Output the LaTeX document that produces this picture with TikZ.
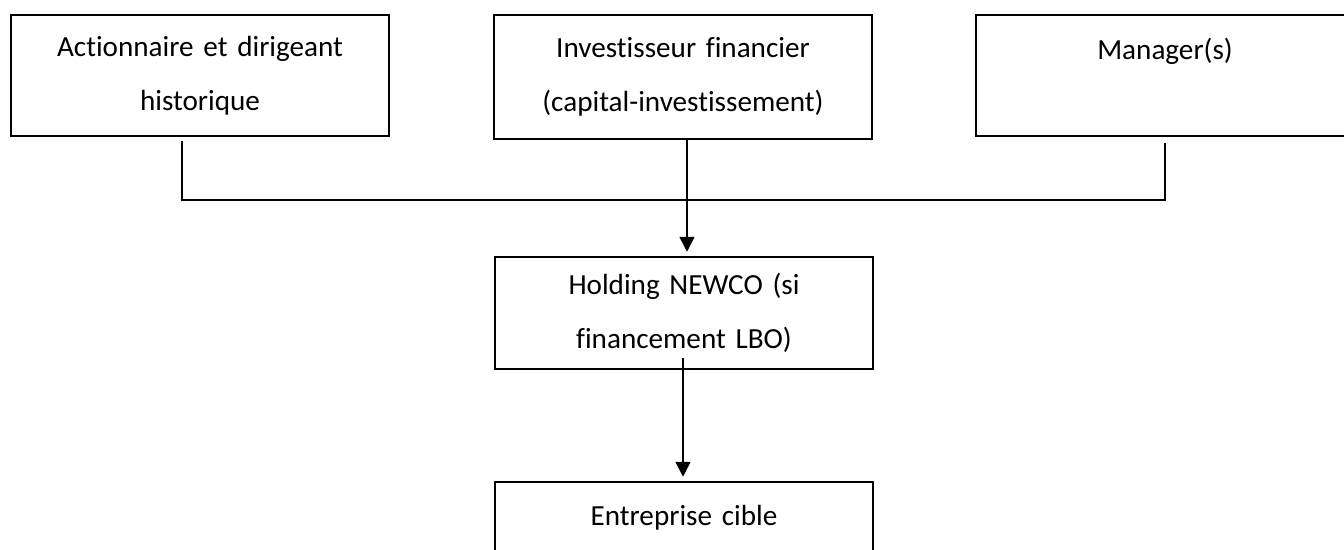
\documentclass[tikz,border=0pt]{standalone}
\usepackage{fontspec}
\setmainfont{Carlito}[Ligatures={NoCommon}]
\usetikzlibrary{arrows.meta}

\begin{document}
\begin{tikzpicture}[x=0.02cm, y=-0.02cm,
    box/.style={draw, line width=1pt, text width=7.2cm, align=center,
        minimum width=7.56cm, inner sep=0pt,
        font=\fontsize{16.6}{30.6}\selectfont},
    link/.style={line width=0.9pt},
    arrow/.style={line width=0.9pt, -{Triangle[width=8.5pt,length=8.5pt]}, shorten >=2.5pt}]

    \useasboundingbox (0,0) rectangle (1344,550);


    \node[box, minimum height=2.42cm] (actionnaire) at (200,75.5) {Actionnaire et dirigeant\\historique};

    \node[box, minimum height=2.48cm] (investisseur) at (683,77) {Investisseur financier\\(capital-investissement)};

    \node[box, minimum height=2.42cm] (manager) at (1165,75.5) {Manager(s)\\~};

    \node[box, minimum height=2.24cm] (holding) at (684,313) {Holding NEWCO (si\\financement LBO)};

    \node[box, minimum height=2.42cm] (cible) at (684,542.5) {Entreprise cible\\~};


    \coordinate (j1) at (182,200);

    \coordinate (j3) at (1165,200);

    \coordinate (a1) at (687,0);

    \coordinate (a2) at (683,358);


    \draw[link, shorten <=2.3pt, shorten >=3.5pt] (j1 |- actionnaire.south) -- (j1) -- (j3) -- (j3 |- manager.south);

    \draw[arrow] (investisseur.south -| a1) -- (holding.north -| a1);

    \draw[arrow] (a2) -- (a2 |- cible.north);

\end{tikzpicture}
\end{document}
